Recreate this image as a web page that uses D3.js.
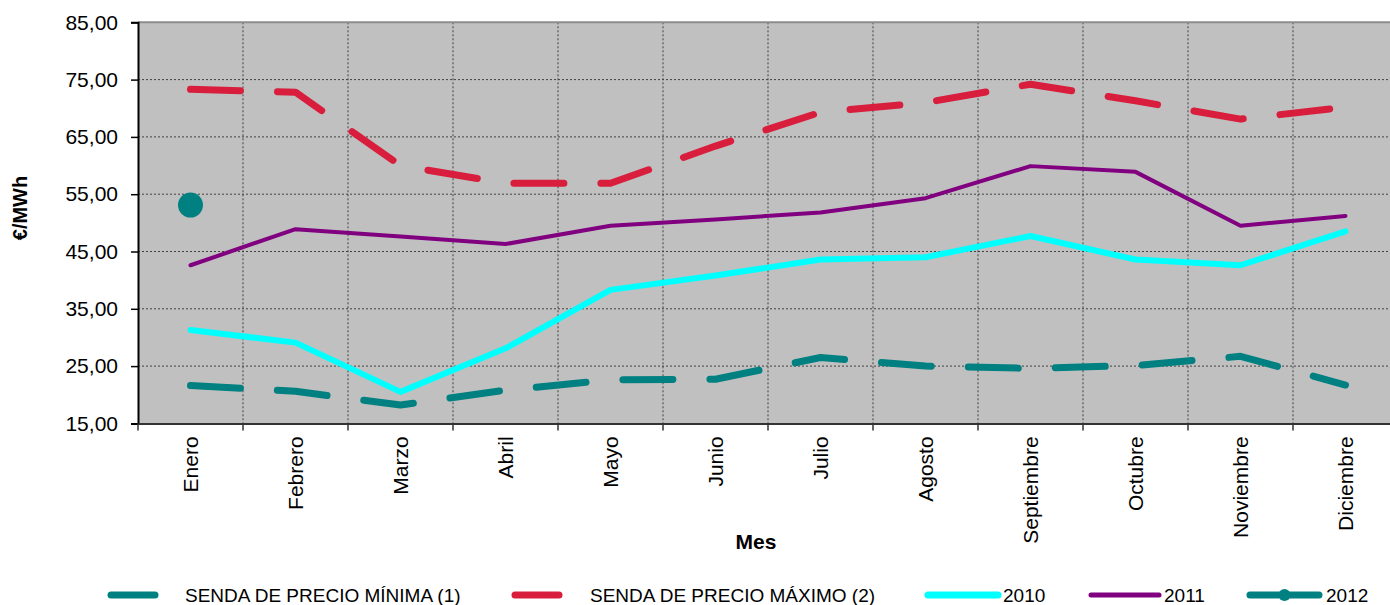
<!DOCTYPE html>
<html>
<head>
<meta charset="utf-8">
<script src="https://cdn.jsdelivr.net/npm/d3@7/dist/d3.min.js"></script>
<style>
  html, body { margin: 0; padding: 0; background: #ffffff; }
  svg { display: block; font-family: "Liberation Sans", Arial, sans-serif; }
</style>
</head>
<body>
<svg id="chart" width="1390" height="605"></svg>
<script>
// Monthly price paths and yearly averages (€/MWh)
const months = ["Enero", "Febrero", "Marzo", "Abril", "Mayo", "Junio",
                "Julio", "Agosto", "Septiembre", "Octubre", "Noviembre", "Diciembre"];
const sendaMinima = [21.6, 20.6, 18.2, 20.8, 22.6, 22.7, 26.5, 25.0, 24.6, 25.1, 26.7, 21.7];
const sendaMaxima = [73.3, 72.8, 60.0, 56.9, 56.9, 63.4, 69.3, 71.0, 74.2, 71.3, 68.1, 70.2];
const values2010 = [31.3, 29.1, 20.5, 28.1, 38.3, 40.8, 43.6, 44.0, 47.7, 43.6, 42.6, 48.5];
const values2011 = [42.6, 48.9, 47.6, 46.3, 49.5, 50.6, 51.8, 54.3, 59.9, 58.9, 49.5, 51.2];
const values2012 = [53.1];
const yTicks = [15, 25, 35, 45, 55, 65, 75, 85];

const svg = d3.select("#chart");
const plot = { left: 138, right: 1398, top: 22.3, bottom: 423.4 };

const x = d3.scaleBand().domain(months).range([plot.left, plot.right]).padding(0);
const y = d3.scaleLinear().domain([15, 85]).range([plot.bottom, plot.top]);
const cx = m => x(m) + x.bandwidth() / 2;

const es = d3.formatLocale({ decimal: ",", thousands: ".", grouping: [3], currency: ["", " €"] });
const fmt = es.format(".2f");

// Plot background
svg.append("rect")
  .attr("x", plot.left).attr("y", plot.top)
  .attr("width", plot.right - plot.left).attr("height", plot.bottom - plot.top)
  .attr("fill", "#c0c0c0");

// Dotted gridlines
const grid = svg.append("g").attr("stroke", "#404040").attr("stroke-width", 1)
  .attr("stroke-dasharray", "2,2");
grid.selectAll("line.h").data(yTicks.slice(1, -1)).join("line")
  .attr("x1", plot.left).attr("x2", plot.right)
  .attr("y1", d => y(d)).attr("y2", d => y(d));
grid.selectAll("line.v").data(months.slice(1)).join("line")
  .attr("x1", d => x(d)).attr("x2", d => x(d))
  .attr("y1", plot.top).attr("y2", plot.bottom);

// Top border of the plot area
svg.append("line")
  .attr("x1", plot.left).attr("x2", plot.right)
  .attr("y1", plot.top).attr("y2", plot.top)
  .attr("stroke", "#8c8c8c").attr("stroke-width", 2);

// Y axis
const yAxis = svg.append("g")
  .attr("transform", `translate(${plot.left},0)`)
  .call(d3.axisLeft(y).tickValues(yTicks).tickFormat(fmt).tickSize(7).tickPadding(13));
yAxis.select(".domain").attr("stroke", "#000").attr("stroke-width", 2);
yAxis.selectAll(".tick line").attr("stroke", "#000").attr("stroke-width", 1.5);
yAxis.selectAll(".tick text").attr("font-size", 21).attr("fill", "#000")
  .attr("font-family", "Liberation Sans, Arial, sans-serif");

// X axis with vertical month labels
const xAxis = svg.append("g")
  .attr("transform", `translate(0,${plot.bottom})`)
  .call(d3.axisBottom(x).tickSize(0).tickFormat(d => d));
xAxis.select(".domain").attr("stroke", "#333").attr("stroke-width", 2);
xAxis.selectAll(".tick text")
  .attr("font-size", 21).attr("fill", "#000")
  .attr("font-family", "Liberation Sans, Arial, sans-serif")
  .attr("text-anchor", "end")
  .attr("transform", "rotate(-90)")
  .attr("x", -13).attr("y", 0).attr("dy", "0.35em");
// Tick marks on band boundaries
svg.append("g").selectAll("line").data(months.concat(["end"])).join("line")
  .attr("x1", (d, i) => plot.left + i * x.bandwidth())
  .attr("x2", (d, i) => plot.left + i * x.bandwidth())
  .attr("y1", plot.bottom).attr("y2", plot.bottom + 7)
  .attr("stroke", "#333").attr("stroke-width", 1.5);

// Axis titles
svg.append("text")
  .attr("x", 756).attr("y", 549)
  .attr("text-anchor", "middle").attr("font-size", 21).attr("font-weight", "bold")
  .text("Mes");
svg.append("text")
  .attr("transform", "translate(27,208) rotate(-90)")
  .attr("text-anchor", "middle").attr("font-size", 20).attr("font-weight", "bold")
  .text("€/MWh");

// Series lines
const line = d3.line().x((d, i) => cx(months[i])).y(d => y(d));
const series = [
  { data: sendaMinima, color: "#008080", width: 7, dash: "50,37" },
  { data: sendaMaxima, color: "#d81e3c", width: 7, dash: "50,37" },
  { data: values2010, color: "#00ffff", width: 6, dash: null },
  { data: values2011, color: "#800080", width: 4, dash: null }
];
series.forEach(s => {
  svg.append("path")
    .datum(s.data)
    .attr("d", line)
    .attr("fill", "none")
    .attr("stroke", s.color)
    .attr("stroke-width", s.width)
    .attr("stroke-linecap", "round")
    .attr("stroke-linejoin", "round")
    .attr("stroke-dasharray", s.dash);
});

// 2012: single monthly value
svg.append("g").selectAll("circle").data(values2012).join("circle")
  .attr("cx", (d, i) => cx(months[i])).attr("cy", d => y(d))
  .attr("r", 12.5).attr("fill", "#008080");

// Legend
const legendItems = [
  { label: "SENDA DE PRECIO MÍNIMA (1)", color: "#008080", x1: 111, x2: 155, textX: 185, width: 7 },
  { label: "SENDA DE PRECIO MÁXIMO (2)", color: "#d81e3c", x1: 515, x2: 559, textX: 590, width: 7 },
  { label: "2010", color: "#00ffff", x1: 928, x2: 998, textX: 1003, width: 7 },
  { label: "2011", color: "#800080", x1: 1091, x2: 1159, textX: 1164, width: 5 },
  { label: "2012", color: "#008080", x1: 1250, x2: 1319, textX: 1326, width: 7, marker: true }
];
const ly = 595;
const legend = svg.append("g");
legendItems.forEach(it => {
  legend.append("line")
    .attr("x1", it.x1).attr("x2", it.x2).attr("y1", ly).attr("y2", ly)
    .attr("stroke", it.color).attr("stroke-width", it.width)
    .attr("stroke-linecap", "round");
  if (it.marker) {
    legend.append("circle").attr("cx", (it.x1 + it.x2) / 2).attr("cy", ly)
      .attr("r", 6).attr("fill", it.color);
  }
  legend.append("text")
    .attr("x", it.textX).attr("y", ly + 7)
    .attr("font-size", 19).attr("fill", "#000")
    .text(it.label);
});
</script>
</body>
</html>
